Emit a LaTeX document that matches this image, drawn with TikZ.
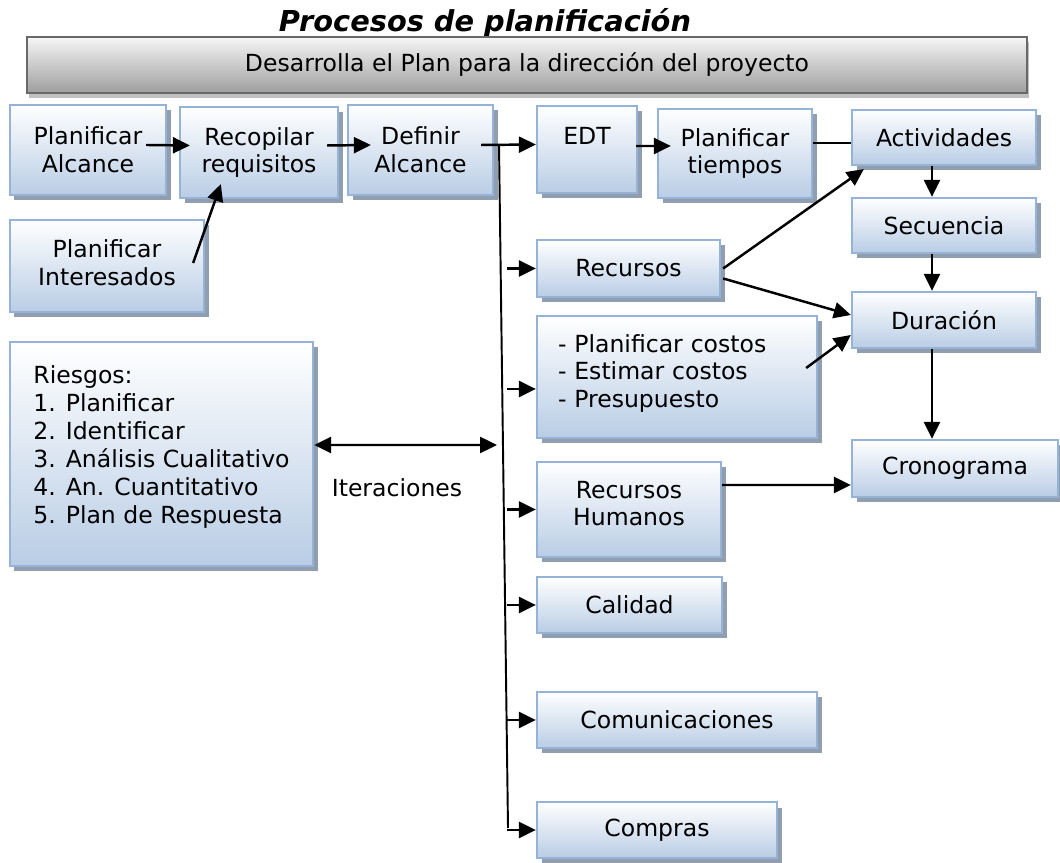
\documentclass[tikz,border=0pt]{standalone}
\usepackage{fontspec}
\setmainfont{DejaVu Sans}[ItalicFont={DejaVu Sans Oblique},BoldItalicFont={DejaVu Sans Bold Oblique}]
\usepackage{tikz}
\usetikzlibrary{arrows.meta,shadows}

\definecolor{boxline}{RGB}{149,179,215}
\definecolor{boxbot}{RGB}{185,205,229}
\definecolor{shadowc}{RGB}{145,158,175}
\definecolor{barline}{RGB}{105,105,105}
\definecolor{bartop}{RGB}{246,246,246}
\definecolor{barbot}{RGB}{158,158,158}
\definecolor{barshadow}{RGB}{192,192,192}

\begin{document}
\begin{tikzpicture}[
  font=\fontsize{13.4}{15.9}\selectfont,
  box/.style={draw=boxline,line width=1.3pt,top color=white,bottom color=boxbot,align=center,inner sep=2pt,
    drop shadow={shadow xshift=0.09cm,shadow yshift=-0.11cm,fill=shadowc,opacity=1}},
  bar/.style={draw=barline,line width=1.4pt,top color=bartop,bottom color=barbot,
    drop shadow={shadow xshift=0.04cm,shadow yshift=-0.11cm,fill=barshadow,opacity=1}},
  arr/.style={-{Triangle[length=3.4mm,width=3.2mm]},line width=1.4pt},
  darr/.style={{Triangle[length=3.4mm,width=3.2mm]}-{Triangle[length=3.4mm,width=3.2mm]},line width=1.4pt}]
  \useasboundingbox (0,0) rectangle (21.2,17.24);
  % titulo y barra superior
  \node[anchor=base,font=\fontsize{16.4}{19}\selectfont\bfseries\itshape] (title) at (9.70,16.60) {Procesos de planificación};
  \node[bar,minimum width=20cm,minimum height=1.12cm] (plan) at (10.54,15.94) {Desarrolla el Plan para la dirección del proyecto};
  % alcance
  \node[box,minimum width=3.12cm,minimum height=1.8cm] (pa) at (1.76,14.24) {Planificar\\Alcance};
  \node[box,minimum width=3.16cm,minimum height=1.82cm] (rr) at (5.18,14.19) {Recopilar\\requisitos};
  \node[box,minimum width=2.9cm,minimum height=1.8cm] (da) at (8.41,14.24) {Definir\\Alcance};
  \node[box,minimum width=3.88cm,minimum height=1.84cm] (pi) at (2.14,11.92) {Planificar\\Interesados\\[-12.5pt]\mbox{}};
  \node[box,align=left,minimum width=6.06cm,minimum height=4.48cm] (rg) at (3.23,8.16)
    {Riesgos:\\1. Planificar\\2. Identificar\\3. Análisis Cualitativo\\4. An. Cuantitativo\\5. Plan de Respuesta\\[-4.8pt]\mbox{}};
  % tiempos
  \node[box,minimum width=2cm,minimum height=1.74cm] (edt) at (11.74,14.25) {EDT\\\mbox{}};
  \node[box,minimum width=3.08cm,minimum height=1.78cm] (pt) at (14.70,14.17) {Planificar\\tiempos};
  \node[box,minimum width=3.68cm,minimum height=1.1cm] (act) at (18.88,14.49) {Actividades};
  \node[box,minimum width=3.68cm,minimum height=1.1cm] (sec) at (18.88,12.73) {Secuencia};
  \node[box,minimum width=3.68cm,minimum height=1.12cm] (dur) at (18.88,10.84) {Duración};
  \node[box,minimum width=4.12cm,minimum height=1.14cm] (crono) at (19.10,7.87) {Cronograma};
  % otras areas
  \node[box,minimum width=3.66cm,minimum height=1.14cm] (rec) at (12.57,11.87) {Recursos};
  \node[box,align=left,text width=4.76cm,minimum width=5.6cm,minimum height=2.44cm] (cost) at (13.54,9.70)
    {- Planificar costos\\- Estimar costos\\- Presupuesto\vspace*{4pt}};
  \node[box,minimum width=3.68cm,minimum height=1.9cm] (rh) at (12.58,7.05) {Recursos\\Humanos\\[-9pt]\mbox{}};
  \node[box,minimum width=3.7cm,minimum height=1.12cm] (cal) at (12.59,5.14) {Calidad};
  \node[box,minimum width=5.6cm,minimum height=1.12cm] (com) at (13.54,2.84) {Comunicaciones};
  \node[box,minimum width=4.8cm,minimum height=1.12cm] (comp) at (13.14,0.64) {Compras};
  \node (iter) at (7.94,7.48) {Iteraciones};
  % flechas
  \coordinate (ttop) at (9.98,14.34);
  \coordinate (tbot) at (10.16,0.68);
  \coordinate (it) at (9.94,8.34);
  \draw[arr] ([xshift=-0.42cm,yshift=0.1cm]pa.east) -- ([xshift=0.22cm,yshift=0.14cm]rr.west);
  \draw[arr] ([xshift=-0.24cm,yshift=0.14cm]rr.east) -- ([xshift=0.48cm,yshift=0.1cm]da.west);
  \draw[arr] ([xshift=-0.26cm,yshift=0.1cm]da.east) -- ([yshift=0.1cm]edt.west);
  \draw[arr] ([xshift=-0.04cm,yshift=0.07cm]edt.east) -- ([xshift=0.28cm,yshift=0.15cm]pt.west);
  \draw[line width=1.4pt] ([yshift=0.21cm]pt.east) -- ([yshift=-0.11cm]act.west);
  \draw[arr] ([xshift=-0.24cm,yshift=0.06cm]pi.east) -- ([shift={(0.84,0.3)}]rr.south west);
  \draw[line width=1.1pt] (ttop) -- (tbot);
  \foreach \b in {rec,rh,cal,com,comp}
    \draw[arr] ([xshift=-0.58cm]\b.west) -- (\b.west);
  \draw[arr] ([xshift=-0.58cm,yshift=-0.24cm]cost.west) -- ([yshift=-0.24cm]cost.west);
  \draw[darr] ([yshift=0.18cm]rg.east) -- (it);
  \draw[arr] ([xshift=0.04cm]rec.east) -- ([xshift=0.26cm,yshift=-0.06cm]act.south west);
  \draw[arr] ([xshift=0.04cm,yshift=-0.2cm]rec.east) -- ([yshift=0.1cm]dur.west);
  \draw[arr] ([xshift=-0.24cm]act.south) -- ([xshift=-0.24cm]sec.north);
  \draw[arr] ([xshift=-0.24cm]sec.south) -- ([xshift=-0.24cm]dur.north);
  \draw[arr] ([xshift=-0.24cm]dur.south) -- ([xshift=-0.24cm]dur.south |- crono.north);
  \draw[arr] ([shift={(-0.24,0.18)}]cost.east) -- ([yshift=-0.3cm]dur.west);
  \draw[arr] ([yshift=0.49cm]rh.east) -- ([yshift=-0.33cm]crono.west);
\end{tikzpicture}
\end{document}
